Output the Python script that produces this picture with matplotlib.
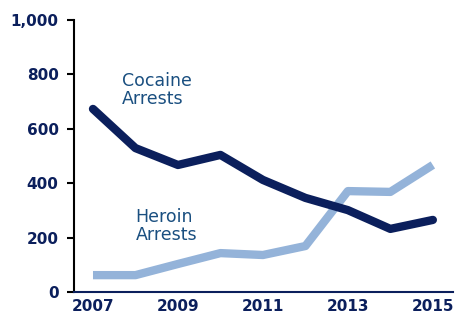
import matplotlib
matplotlib.use('Agg')
import matplotlib.pyplot as plt

years = [2007, 2008, 2009, 2010, 2011, 2012, 2013, 2014, 2015]
cocaine = [673, 529, 467, 504, 412, 346, 301, 232, 265]
heroin = [62, 62, 103, 143, 136, 169, 371, 368, 467]
xticks = [2007, 2009, 2011, 2013, 2015]
yticks = [0, 200, 400, 600, 800, 1000]

navy = '#0b1f5c'
light = '#94b3d9'
label_col = '#1a4f80'

fig = plt.figure(figsize=(4.56, 3.2), dpi=100)
ax1 = fig.add_axes([0.162, 0.0875, 0.831, 0.85])
ax1.plot(years, heroin, color=light, linewidth=6, solid_capstyle='butt')
ax1.plot(years, cocaine, color=navy, linewidth=6, solid_capstyle='round')

ax1.set_xlim([2006.55, 2015.47])
ax1.set_ylim([0, 1000])
ax1.set_xticks(xticks)
ax1.set_xticklabels([str(x) for x in xticks])
ax1.set_yticks(yticks)
ax1.set_yticklabels(['{:,}'.format(y) for y in yticks])
for lab in ax1.get_xticklabels() + ax1.get_yticklabels():
    lab.set_fontweight('bold')
    lab.set_color(navy)
    lab.set_fontsize(11)
ax1.tick_params(axis='x', length=0, pad=5)
ax1.tick_params(axis='y', length=5, width=1.5, color='black', pad=6)

ax1.spines['top'].set_visible(False)
ax1.spines['right'].set_visible(False)
ax1.spines['left'].set_color('black')
ax1.spines['left'].set_linewidth(1.5)
ax1.spines['bottom'].set_color(navy)
ax1.spines['bottom'].set_linewidth(1.5)

ax1.text(2007.68, 810, 'Cocaine\nArrests', color=label_col, fontsize=12.5, va='top', ha='left', linespacing=1.0)
ax1.text(2008.0, 310, 'Heroin\nArrests', color=label_col, fontsize=12.5, va='top', ha='left', linespacing=1.0)

fig.savefig('out.png', dpi=100)
